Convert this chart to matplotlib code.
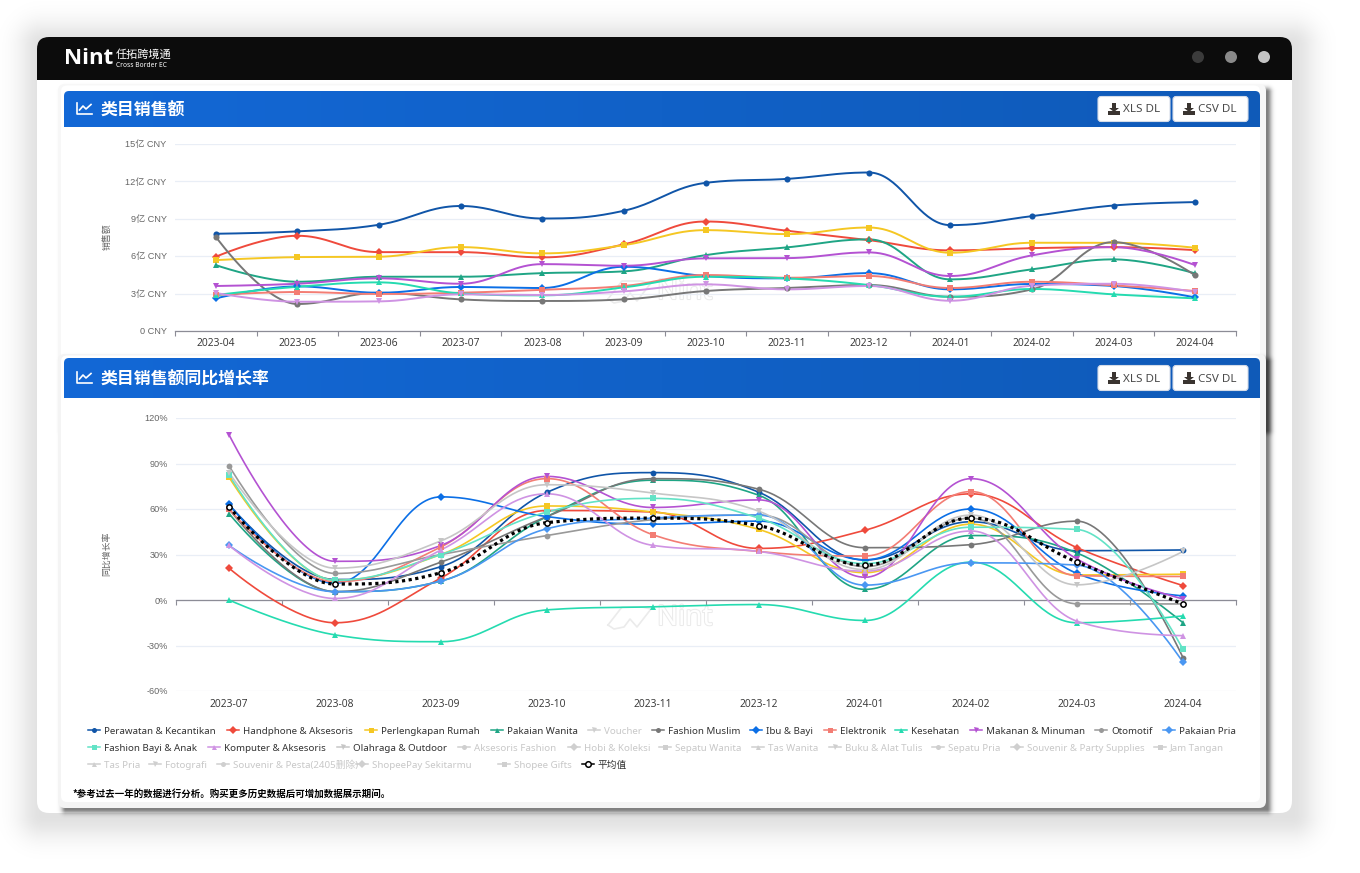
import numpy as np
import matplotlib
matplotlib.use("Agg")
import matplotlib.pyplot as plt
import matplotlib.patheffects as pe
from matplotlib.patches import FancyBboxPatch, Polygon, Circle, Rectangle

W, H = 1360, 873
FONT = ["Noto Sans", "Noto Sans CJK SC", "DejaVu Sans"]
plt.rcParams["font.family"] = FONT

# ---- top chart: 类目销售额 (亿 CNY)
sales_months = ["2023-04", "2023-05", "2023-06", "2023-07", "2023-08", "2023-09", "2023-10",
                "2023-11", "2023-12", "2024-01", "2024-02", "2024-03", "2024-04"]
sales_perawatan = [7.78, 7.97, 8.50, 10.0, 9.00, 9.62, 11.85, 12.17, 12.68, 8.47, 9.19, 10.04, 10.31]
sales_handphone = [5.94, 7.62, 6.31, 6.31, 5.89, 6.93, 8.76, 8.02, 7.27, 6.45, 6.63, 6.71, 6.47]
sales_rumah = [5.67, 5.91, 5.94, 6.71, 6.21, 6.87, 8.07, 7.75, 8.28, 6.26, 7.06, 7.06, 6.66]
sales_wanita = [5.27, 3.94, 4.34, 4.34, 4.63, 4.77, 6.07, 6.69, 7.33, 4.13, 4.93, 5.73, 4.61]
sales_muslim = [7.54, 2.16, 3.06, 2.53, 2.40, 2.53, 3.20, 3.44, 3.68, 2.74, 3.33, 7.11, 4.45]
sales_ibu = [2.61, 3.57, 3.06, 3.52, 3.44, 5.14, 4.40, 4.21, 4.63, 3.33, 3.76, 3.60, 2.69]
sales_elektronik = [2.88, 3.12, 2.96, 3.06, 3.30, 3.60, 4.48, 4.26, 4.40, 3.44, 3.94, 3.65, 3.20]
sales_kesehatan = [2.88, 3.54, 3.89, 3.01, 2.85, 3.49, 4.34, 4.21, 3.68, 2.74, 3.36, 2.93, 2.61]
sales_makanan = [3.60, 3.78, 4.21, 3.78, 5.35, 5.22, 5.81, 5.83, 6.29, 4.40, 6.05, 6.71, 5.27]
sales_komputer = [3.04, 2.34, 2.37, 2.93, 2.88, 3.17, 3.73, 3.33, 3.60, 2.42, 3.62, 3.78, 3.12]
sales_ticks = [0, 3, 6, 9, 12, 15]
sales_tick_labels = ["0 CNY", "3亿 CNY", "6亿 CNY", "9亿 CNY", "12亿 CNY", "15亿 CNY"]

# ---- bottom chart: 类目销售额同比增长率 (%)
growth_months = ["2023-07", "2023-08", "2023-09", "2023-10", "2023-11", "2023-12",
                 "2024-01", "2024-02", "2024-03", "2024-04"]
growth_perawatan = [63, 13.5, 22, 71, 84, 71, 26.4, 51.6, 32.5, 33]
growth_handphone = [21, -15, 14.5, 59, 58, 34, 46, 70, 34.5, 9.5]
growth_rumah = [81, 13, 30, 62, 58, 46.5, 18, 50, 16.5, 17]
growth_wanita = [57, 5.5, 12.5, 55, 79, 69, 7, 42.5, 31, -15]
growth_muslim = [60, 5.5, 25, 55, 80, 73, 34.5, 36.5, 52, -38]
growth_ibu = [63, 11, 68, 55, 50, 52, 26.5, 60, 17.5, 2.7]
growth_elektronik = [60, 12, 35, 80, 43, 32, 29, 71.5, 16, 15.5]
growth_kesehatan = [0, -23, -27.5, -6.5, -4.5, -3, -13.5, 25, -15, -10.5]
growth_makanan = [109, 25.5, 36, 81.5, 61, 66, 15, 80, 27, 0.7]
growth_otomotif = [88.5, 17.5, 30, 42.5, 53, 56, 22, 54, -2.5, -2.6]
growth_pria = [36, 5.5, 12.5, 47, 54, 56, 9.8, 24.5, 23, -41]
growth_bayi = [82.5, 13, 30, 58, 67, 54, 24, 48, 46.5, -32.5]
growth_komputer = [36, 1, 33, 70, 36, 32, 19, 45.5, -14, -23.5]
growth_olahraga = [84, 21, 39, 76, 70.5, 58.5, 20, 56, 10, 32]
growth_average = [61.5, 10.5, 18, 51, 54, 49, 23, 54, 25, -2.6]
growth_ticks = [-60, -30, 0, 30, 60, 90, 120]

# ---- legend
legend_names = ["Perawatan & Kecantikan", "Handphone & Aksesoris", "Perlengkapan Rumah", "Pakaian Wanita",
                "Voucher", "Fashion Muslim", "Ibu & Bayi", "Elektronik", "Kesehatan", "Makanan & Minuman",
                "Otomotif", "Pakaian Pria", "Fashion Bayi & Anak", "Komputer & Aksesoris", "Olahraga & Outdoor",
                "Aksesoris Fashion", "Hobi & Koleksi", "Sepatu Wanita", "Tas Wanita", "Buku & Alat Tulis",
                "Sepatu Pria", "Souvenir & Party Supplies", "Jam Tangan", "Tas Pria", "Fotografi",
                "Souvenir & Pesta(2405删除)", "ShopeePay Sekitarmu", "Shopee Gifts", "平均值"]
legend_x = [104, 243, 381, 507, 604, 668, 766, 840, 911, 986, 1111, 1179,
            104, 224, 353, 474, 584, 675, 768, 845, 948, 1027, 1170,
            104, 165, 233, 372, 514, 598]
legend_row = [730] * 12 + [747] * 11 + [764] * 6

NAVY, RED, YELLOW, GREEN = "#1055a8", "#ef4a3c", "#f5c723", "#1fa585"
DGRAY, BLUE, SALMON, TEAL = "#777777", "#0b6fe6", "#f37d74", "#25dbb0"
PURPLE, MGRAY, LBLUE, AQUA = "#b452d2", "#999999", "#4a97f2", "#62e3c6"
ORCHID, LGRAY, OFF = "#cf93e3", "#c6c6c6", "#cfcfcf"
legend_colors = [NAVY, RED, YELLOW, GREEN, OFF, DGRAY, BLUE, SALMON, TEAL, PURPLE, MGRAY, LBLUE,
                 AQUA, ORCHID, LGRAY] + [OFF] * 13 + ["black"]
legend_markers = ["o", "D", "s", "^", "v"] * 5 + ["o", "D", "s"] + ["o"]


def spline(values):
    # same bezier control points as a Highcharts spline (flat at local extremes)
    y = [float(v) for v in values]
    n = len(y)
    left, right = [None] * n, [None] * n
    s = 1.5
    for i in range(1, n - 1):
        lx = (s * i + i - 1) / (s + 1)
        rx = (s * i + i + 1) / (s + 1)
        ly = (s * y[i] + y[i - 1]) / (s + 1)
        ry = (s * y[i] + y[i + 1]) / (s + 1)
        corr = (ry - ly) * (rx - i) / (rx - lx) + y[i] - ry
        ly += corr
        ry += corr
        if ly > y[i - 1] and ly > y[i]:
            ly = max(y[i - 1], y[i])
            ry = 2 * y[i] - ly
        elif ly < y[i - 1] and ly < y[i]:
            ly = min(y[i - 1], y[i])
            ry = 2 * y[i] - ly
        if ry > y[i + 1] and ry > y[i]:
            ry = max(y[i + 1], y[i])
            ly = 2 * y[i] - ry
        elif ry < y[i + 1] and ry < y[i]:
            ry = min(y[i + 1], y[i])
            ly = 2 * y[i] - ry
        left[i] = (lx, ly)
        right[i] = (rx, ry)
    xs, ys = [], []
    t = np.linspace(0, 1, 40)
    for i in range(n - 1):
        p0 = (i, y[i])
        p1 = right[i] or p0
        p3 = (i + 1, y[i + 1])
        p2 = left[i + 1] or p3
        xs.extend((1 - t) ** 3 * p0[0] + 3 * (1 - t) ** 2 * t * p1[0] + 3 * (1 - t) * t ** 2 * p2[0] + t ** 3 * p3[0])
        ys.extend((1 - t) ** 3 * p0[1] + 3 * (1 - t) ** 2 * t * p1[1] + 3 * (1 - t) * t ** 2 * p2[1] + t ** 3 * p3[1])
    return xs, ys


def rbox(ax, x0, y0, x1, y1, r, **kw):
    p = FancyBboxPatch((x0, y0), x1 - x0, y1 - y0, boxstyle=f"round,pad=0,rounding_size={r}", **kw)
    ax.add_patch(p)
    return p


def shadow(ax, x0, y0, x1, y1, sigma, strength, zorder=1):
    # soft drop shadow as an image, fades with the distance from the box
    gx, gy = np.meshgrid(np.arange(W) + 0.5, np.arange(H) + 0.5)
    dx = np.maximum(np.maximum(x0 - gx, gx - x1), 0)
    dy = np.maximum(np.maximum(y0 - gy, gy - y1), 0)
    d = np.hypot(dx, dy)
    rgba = np.zeros((H, W, 4))
    rgba[..., 3] = strength * np.exp(-(d / sigma) ** 2)
    ax.imshow(rgba, extent=(0, W, H, 0), aspect="auto", interpolation="nearest", zorder=zorder)


def header(ax, y0, y1, title):
    grad = np.linspace(0, 1, 256).reshape(1, -1)
    cmap = matplotlib.colors.LinearSegmentedColormap.from_list("hd", ["#1368d6", "#0f5ab8"])
    clip = rbox(ax, 64, y0, 1260, y1 + 8, 5, fc="none", ec="none", zorder=1)
    im = ax.imshow(grad, extent=(64, 1260, y1, y0), cmap=cmap, aspect="auto", zorder=2)
    im.set_clip_path(clip)
    ym = (y0 + y1) / 2
    # little line chart icon
    ax.plot([77, 77, 92], [ym - 6, ym + 5, ym + 5], color="white", lw=1.2, zorder=3)
    ax.plot([79.5, 83, 86, 91], [ym + 1, ym - 3, ym, ym - 4.5], color="white", lw=1.2, zorder=3)
    ax.text(101, ym + 2, title, color="white", fontsize=12.2, fontweight="bold", va="center", ha="left",
            family=["Noto Sans CJK SC"], zorder=3)
    for x0, x1, label in [(1098, 1170, "XLS DL"), (1173, 1248, "CSV DL")]:
        rbox(ax, x0, ym - 12.5, x1, ym + 12.5, 3, fc="white", ec="#d5dce8", lw=0.8, zorder=3)
        cx = x0 + 16
        ax.add_patch(Polygon([(cx - 2, ym - 6), (cx + 2, ym - 6), (cx + 2, ym - 1), (cx + 5, ym - 1),
                              (cx, ym + 3), (cx - 5, ym - 1), (cx - 2, ym - 1)], fc="#3a3430", ec="none", zorder=4))
        ax.add_patch(Rectangle((cx - 6, ym + 2), 12, 3.5, fc="#3a3430", ec="none", zorder=4))
        ax.text(cx + 9, ym + 1, label, color="#4a4a4a", fontsize=8.4, va="center", ha="left", zorder=4)


def watermark(ax, y):
    outline = [pe.withStroke(linewidth=1.5, foreground="#ebebeb")]
    ax.text(657, y, "Nint", color="white", fontsize=20, fontweight="bold", va="center", ha="left",
            path_effects=outline, zorder=1.8)
    ax.plot([608, 622, 642, 651, 637, 630, 624, 614, 608], [y + 7, y - 11, y - 11, y - 9, y + 9, y + 1, y + 9, y + 11, y + 7],
            color="#ebebeb", lw=1.2, zorder=1.8)


def chart_axes(fig, x0, x1, ytop, ybottom, ylim):
    ax = fig.add_axes([x0 / W, 1 - ybottom / H, (x1 - x0) / W, (ybottom - ytop) / H])
    ax.patch.set_alpha(0)
    ax.set_ylim(*ylim)
    for name in ["top", "right", "left"]:
        ax.spines[name].set_visible(False)
    ax.spines["bottom"].set_color("#8c8c96")
    ax.spines["bottom"].set_linewidth(0.9)
    ax.grid(axis="y", color="#e9eef6", lw=0.9)
    ax.set_axisbelow(True)
    ax.tick_params(axis="y", length=0, pad=6, labelsize=6.6, labelcolor="#666666")
    return ax


def draw_series(ax, series, lw, ms):
    for values, color, marker in series:
        xs, ys = spline(values)
        ax.plot(xs, ys, color=color, lw=lw, solid_capstyle="round", zorder=3)
        ax.plot(range(len(values)), values, ls="none", marker=marker, color=color, ms=ms, mew=0, zorder=4)


def band_ticks(ax, labels, pad):
    n = len(labels)
    ax.set_xlim(-0.5, n - 0.5)
    ax.set_xticks(range(n))
    ax.set_xticklabels(labels, fontsize=7.4, color="#333333", family=["Open Sans"])
    ax.set_xticks(np.arange(n + 1) - 0.5, minor=True)
    ax.tick_params(axis="x", which="major", length=0, pad=pad)
    ax.tick_params(axis="x", which="minor", length=3.5, width=0.8, color="#8c8c96")


fig = plt.figure(figsize=(W / 100, H / 100), dpi=100, facecolor="white")

# page chrome lives in one full-figure axes, in pixel coordinates
bg = fig.add_axes([0, 0, 1, 1])
bg.set_xlim(0, W)
bg.set_ylim(H, 0)
bg.axis("off")

shadow(bg, 42, 45, 1292, 815, 24, 0.12, zorder=0.1)
rbox(bg, 37, 37, 1292, 813, 12, fc="white", ec="none", zorder=0.2)
rbox(bg, 37, 37, 1292, 110, 12, fc="#0c0c0c", ec="none", zorder=0.3)
bg.add_patch(Rectangle((37, 80), 1255, 40, fc="white", ec="none", zorder=0.4))
for cx, col in [(1198, "#3b3b3b"), (1231, "#8a8a8a"), (1264, "#c4c4c4")]:
    bg.add_patch(Circle((cx, 57), 6, fc=col, ec="none", zorder=0.5))
bg.text(64, 59, "Nint", color="white", fontsize=16, fontweight="bold", va="center", ha="left",
        family=["Open Sans"], zorder=0.5)
bg.text(116, 54, "任拓跨境通", color="white", fontsize=8, va="center", ha="left",
        family=["Noto Sans CJK SC"], zorder=0.5)
bg.text(116, 65.5, "Cross Border EC", color="white", fontsize=4.8, fontweight="bold", va="center", ha="left",
        zorder=0.5)

# top card: pale frame, white inside, dark shadow to the right
shadow(bg, 66, 92, 1267, 430, 4.5, 0.5, zorder=0.6)
rbox(bg, 58, 84, 1266, 440, 7, fc="#f7f7f7", ec="none", zorder=0.7)
rbox(bg, 61, 85.5, 1260, 440, 6, fc="white", ec="none", zorder=0.8)
header(bg, 91, 127, "类目销售额")
watermark(bg, 292)

# bottom card on top of it
shadow(bg, 66, 362, 1267, 809, 4.5, 0.5, zorder=1.1)
rbox(bg, 58, 354, 1266, 808, 7, fc="#f4f4f4", ec="none", zorder=1.2)
rbox(bg, 61, 355.5, 1260, 802, 6, fc="white", ec="none", zorder=1.3)
header(bg, 358, 398, "类目销售额同比增长率")
watermark(bg, 618)

# top chart
ax1 = chart_axes(fig, 175, 1236, 143.5, 331, (0, 15))
ax1.set_yticks(sales_ticks)
ax1.set_yticklabels(sales_tick_labels, family=["Liberation Sans", "Noto Sans CJK SC"])
band_ticks(ax1, sales_months, 5)
draw_series(ax1, [
    (sales_perawatan, NAVY, "o"), (sales_handphone, RED, "D"), (sales_rumah, YELLOW, "s"),
    (sales_wanita, GREEN, "^"), (sales_muslim, DGRAY, "o"), (sales_ibu, BLUE, "D"),
    (sales_elektronik, SALMON, "s"), (sales_kesehatan, TEAL, "^"), (sales_makanan, PURPLE, "v"),
    (sales_komputer, ORCHID, "v"),
], 1.4, 4.4)

# bottom chart, the axis line sits on 0 and the month labels stay at the bottom
ax2 = chart_axes(fig, 176, 1236, 418, 691, (-60, 120))
ax2.spines["bottom"].set_position(("data", 0))
ax2.set_yticks(growth_ticks)
ax2.set_yticklabels([f"{v}%" for v in growth_ticks], family=["Liberation Sans"])
band_ticks(ax2, growth_months, 71)
draw_series(ax2, [
    (growth_perawatan, NAVY, "o"), (growth_handphone, RED, "D"), (growth_rumah, YELLOW, "s"),
    (growth_wanita, GREEN, "^"), (growth_muslim, DGRAY, "o"), (growth_ibu, BLUE, "D"),
    (growth_elektronik, SALMON, "s"), (growth_kesehatan, TEAL, "^"), (growth_makanan, PURPLE, "v"),
    (growth_otomotif, MGRAY, "o"), (growth_pria, LBLUE, "D"), (growth_bayi, AQUA, "s"),
    (growth_komputer, ORCHID, "^"), (growth_olahraga, LGRAY, "v"),
], 1.2, 4.2)
avg_x, avg_y = spline(growth_average)
ax2.plot(avg_x, avg_y, color="black", lw=2.3, ls=(0, (1, 1.1)), zorder=5)
ax2.plot(range(len(growth_average)), growth_average, ls="none", marker="o", mfc="white", mec="black",
         mew=1.1, ms=3.8, zorder=6)

# axis titles
front = fig.add_axes([0, 0, 1, 1])
front.set_xlim(0, W)
front.set_ylim(H, 0)
front.axis("off")
front.patch.set_alpha(0)
front.text(107, 237, "销售额", rotation=90, color="#666666", fontsize=6.4, va="center", ha="center",
           family=["Noto Sans CJK SC"])
front.text(107, 554, "同比增长率", rotation=90, color="#666666", fontsize=6.4, va="center", ha="center",
           family=["Noto Sans CJK SC"])

# legend, texts on one baseline per row
for name, x, y, color, marker in zip(legend_names, legend_x, legend_row, legend_colors, legend_markers):
    front.plot([x - 16, x - 4], [y, y], color=color, lw=1.1)
    if name == "平均值":
        front.plot([x - 10], [y], marker="o", mfc="white", mec="black", mew=1.1, ms=4)
    else:
        front.plot([x - 10], [y], marker=marker, color=color, ms=3.6, mew=0)
    tc = "#c8c8c8" if color == OFF else "#333333"
    front.text(x, y + 4, name, color=tc, fontsize=7.0, va="baseline", ha="left")

front.text(73, 794, "*参考过去一年的数据进行分析。购买更多历史数据后可增加数据展示期间。", color="black",
           fontsize=6.8, fontweight="bold", va="center", ha="left", family=["Noto Sans CJK SC"])

fig.savefig("out.png", dpi=100)
